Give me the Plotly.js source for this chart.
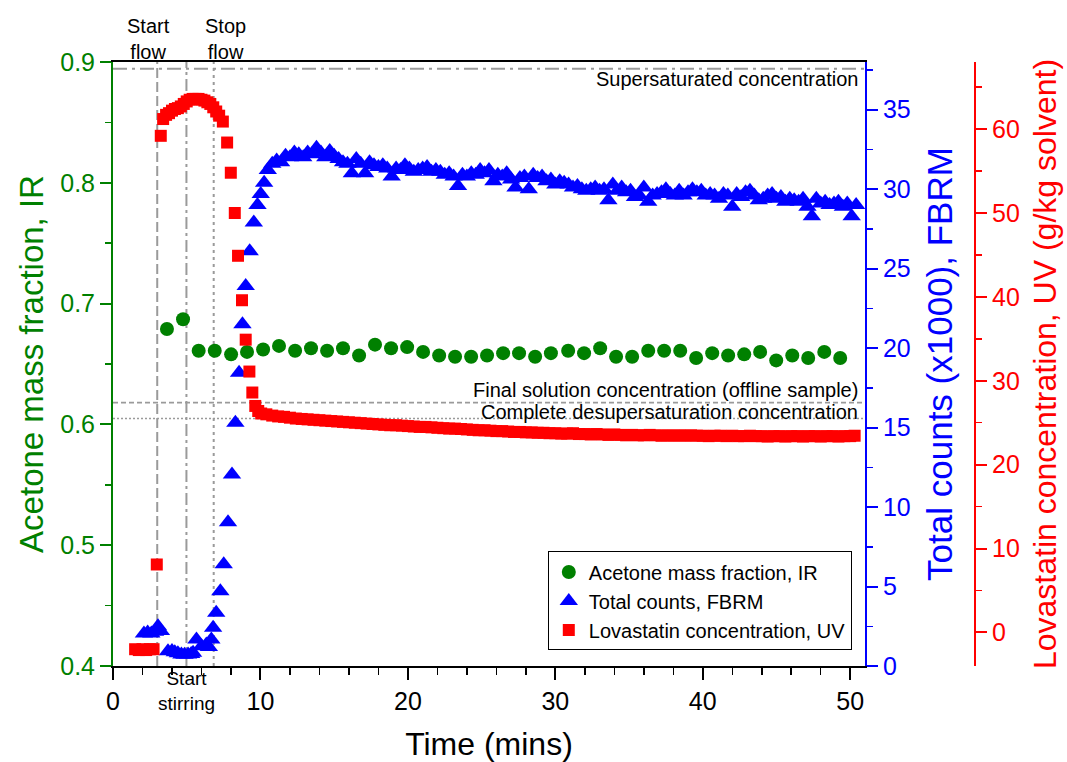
<!DOCTYPE html>
<html><head><meta charset="utf-8">
<script src="https://cdn.plot.ly/plotly-3.0.1.min.js"></script>
<style>html,body{margin:0;padding:0;background:#fff}</style>
</head><body><div id="chart" style="width:1067px;height:762px"></div>
<script>
// ---- Acetone mass fraction (IR) ----
const irTime = [3.66,4.75,5.81,6.90,8.01,9.09,10.18,11.26,12.35,13.43,14.52,15.60,16.69,17.77,18.86,19.95,21.03,22.12,23.20,24.29,25.37,26.46,27.54,28.63,29.70,30.87,31.95,33.04,34.12,35.21,36.30,37.38,38.47,39.55,40.64,41.72,42.81,43.89,44.98,46.07,47.15,48.24,49.32];
const irValue = [0.679,0.687,0.661,0.661,0.658,0.660,0.662,0.665,0.661,0.663,0.661,0.663,0.657,0.666,0.663,0.664,0.660,0.657,0.656,0.656,0.657,0.659,0.659,0.656,0.659,0.661,0.659,0.663,0.656,0.656,0.661,0.661,0.661,0.655,0.659,0.657,0.658,0.660,0.653,0.657,0.655,0.660,0.655];

// ---- Total counts (FBRM, x1000) ----
const fbrmTime = [2.1,2.35,2.6,2.85,3.05,3.25,3.73,4.0,4.19,4.4,4.64,4.85,5.09,5.3,5.43,5.66,6.0,6.33,6.5,6.67,6.79,7.0,7.28,7.51,7.8,8.07,8.3,8.55,8.78,9.0,9.27,9.55,9.8,10.02,10.25,
10.5,10.8,11.1,11.4,11.7,12.0,12.3,12.6,12.9,13.2,13.5,13.8,14.1,14.4,14.7,15.0,15.3,15.6,15.9,16.2,16.5,16.8,17.1,17.4,17.7,18.0,18.3,18.6,18.9,19.2,19.5,19.8,
20.1,20.4,20.7,21.0,21.3,21.6,21.9,22.2,22.5,22.8,23.1,23.4,23.7,24.0,24.3,24.6,24.9,25.2,25.5,25.8,26.1,26.4,26.7,27.0,27.3,27.6,27.9,28.2,28.5,28.8,29.1,29.4,29.7,
30.0,30.3,30.6,30.9,31.2,31.5,31.8,32.1,32.4,32.7,33.0,33.3,33.6,33.9,34.2,34.5,34.8,35.1,35.4,35.7,36.0,36.3,36.6,36.9,37.2,37.5,37.8,38.1,38.4,38.7,39.0,39.3,39.6,39.9,
40.2,40.5,40.8,41.1,41.4,41.7,42.0,42.3,42.6,42.9,43.2,43.5,43.8,44.1,44.4,44.7,45.0,45.3,45.6,45.9,46.2,46.5,46.8,47.1,47.4,47.7,48.0,48.3,48.6,48.9,49.2,49.5,49.8,50.1,50.4];
const fbrmCounts = [2.05,2.1,2.05,2.15,2.5,2.2,0.93,0.95,0.87,0.8,0.72,0.7,0.72,0.75,0.83,1.67,1.25,1.35,1.2,1.67,2.4,3.35,4.7,6.4,9.05,12.05,15.3,18.45,21.5,23.9,26.1,27.9,29.0,29.7,30.4,
31.2,31.6,31.8,31.7,32.1,32.0,32.3,32.2,32.0,32.3,32.2,32.6,32.3,32.0,32.4,32.1,31.9,31.7,31.6,31.0,31.9,31.6,31.0,31.7,31.5,31.4,31.5,31.3,30.8,31.3,31.2,31.5,
31.3,31.1,31.2,31.3,31.4,31.1,31.2,31.1,30.9,31.0,30.8,30.2,30.9,30.8,31.0,30.9,31.2,31.0,31.2,30.5,30.9,30.8,31.0,30.6,30.1,30.7,30.8,30.0,30.9,30.7,30.8,30.5,30.6,
30.3,30.5,30.4,30.3,30.1,30.2,30.0,29.9,30.0,30.1,29.9,30.0,29.3,30.3,29.9,30.1,29.8,29.9,29.5,29.6,30.1,29.2,29.6,29.7,29.8,30.0,29.7,29.6,29.9,29.6,29.8,30.0,29.8,29.9,
29.6,29.7,29.6,29.4,29.7,29.6,28.9,29.7,29.5,29.8,29.9,29.6,29.3,29.4,29.6,29.7,29.4,29.5,29.2,29.4,29.3,29.2,29.4,28.9,28.3,29.4,29.1,29.2,29.0,29.1,29.2,28.9,29.1,28.3,29.0];

// ---- Lovastatin concentration (UV, g/kg solvent) ----
const uvTime = [1.5,1.75,2.0,2.25,2.5,2.75,2.97,3.24,3.4,3.6,3.8,4.0,4.2,4.4,4.6,4.8,5.0,5.2,5.4,5.6,5.8,6.0,6.2,6.4,6.6,6.8,7.0,7.2,7.45,7.74,7.99,8.26,8.48,8.75,9.0,9.25,9.45,9.65,9.85,10.05,
10.4,10.8,11.2,11.6,12.0,12.4,12.8,13.2,13.6,14.0,14.4,14.8,15.2,15.6,16.0,16.4,16.8,17.2,17.6,18.0,18.4,18.8,19.2,19.6,20.0,20.4,20.8,21.2,21.6,22.0,22.4,22.8,23.2,23.6,24.0,24.4,24.8,25.2,25.6,26.0,26.4,26.8,27.2,27.6,28.0,28.4,28.8,29.2,29.6,
30.0,30.4,30.8,31.2,31.6,32.0,32.4,32.8,33.2,33.6,34.0,34.4,34.8,35.2,35.6,36.0,36.4,36.8,37.2,37.6,38.0,38.4,38.8,39.2,39.6,40.0,40.4,40.8,41.2,41.6,42.0,42.4,42.8,43.2,43.6,44.0,44.4,44.8,45.2,45.6,46.0,46.4,46.8,47.2,47.6,48.0,48.4,48.8,49.2,49.6,50.0,50.3];
const uvConc = [-2.0,-2.1,-2.0,-2.1,-2.0,-2.0,8.1,59.2,61.2,61.7,61.9,62.2,62.4,62.5,62.7,63.0,63.3,63.5,63.6,63.6,63.6,63.5,63.4,63.2,63.0,62.6,62.1,61.6,60.9,58.4,54.8,50.0,44.9,39.6,34.9,31.1,28.6,27.0,26.4,26.1,
26.0,25.85,25.75,25.7,25.6,25.5,25.45,25.4,25.35,25.3,25.25,25.2,25.15,25.1,25.05,25.0,24.95,24.9,24.85,24.8,24.75,24.7,24.7,24.65,24.6,24.55,24.5,24.5,24.45,24.4,24.35,24.3,24.3,24.25,24.2,24.15,24.1,24.1,24.05,24.0,24.0,23.95,23.9,23.9,23.85,23.85,23.8,23.8,23.75,
23.75,23.7,23.7,23.75,23.65,23.65,23.6,23.65,23.6,23.55,23.6,23.55,23.5,23.55,23.5,23.5,23.55,23.5,23.45,23.5,23.45,23.5,23.45,23.5,23.45,23.45,23.4,23.45,23.45,23.4,23.45,23.4,23.4,23.45,23.4,23.4,23.35,23.4,23.4,23.35,23.4,23.4,23.35,23.4,23.4,23.35,23.4,23.4,23.35,23.4,23.4,23.45];

// ---- Event markers (min) and reference concentrations (g/kg solvent) ----
const eventTimes = [3.0, 4.98, 6.83];
const refLevels = [67.2, 27.4, 25.5];
const refLabels = ['Supersaturated concentration', 'Final solution concentration (offline sample)', 'Complete desupersaturation concentration'];
const refLabelLevels = [66.0, 28.9, 26.3];

const FONT = 'Liberation Sans, Arial, Helvetica, sans-serif';
const GREEN = '#008000', BLUE = '#0000FF', RED = '#FF0000', GRAY = '#9a9a9a';

const traces = [
  {x: irTime, y: irValue, type: 'scatter', mode: 'markers', name: 'Acetone mass fraction, IR',
   marker: {symbol: 'circle', size: 14, color: GREEN}, yaxis: 'y', cliponaxis: false},
  {x: fbrmTime, y: fbrmCounts, type: 'scatter', mode: 'markers', name: 'Total counts, FBRM',
   marker: {symbol: 'triangle-up', size: 16, color: BLUE}, yaxis: 'y2', cliponaxis: false},
  {x: uvTime, y: uvConc, type: 'scatter', mode: 'markers', name: 'Lovastatin concentration, UV',
   marker: {symbol: 'square', size: 12, color: RED}, yaxis: 'y3', cliponaxis: false}
];

const vDashes = ['10px,4px', '12px,4px,3px,4px', '3px,4px'];
const hDashes = ['14px,5px,3px,5px', '5px,3px', '2px,2px'];
const shapes = [];
eventTimes.forEach((t, i) => shapes.push({type: 'line', layer: 'below', xref: 'x', yref: 'paper',
  x0: t, x1: t, y0: 0, y1: 1, line: {color: GRAY, width: 2, dash: vDashes[i]}}));
refLevels.forEach((v, i) => shapes.push({type: 'line', layer: 'below', xref: 'paper', yref: 'y3',
  x0: 0, x1: 0.8051, y0: v, y1: v, line: {color: GRAY, width: i === 0 ? 2 : 1.6, dash: hDashes[i]}}));

const annotations = [
  {text: 'Start<br>flow', x: 2.39, xref: 'x', y: 1.0389, yref: 'paper', yanchor: 'middle', showarrow: false, font: {family: FONT, size: 20, color: '#000'}},
  {text: 'Stop<br>flow', x: 7.65, xref: 'x', y: 1.0389, yref: 'paper', yanchor: 'middle', showarrow: false, font: {family: FONT, size: 20, color: '#000'}},
  {text: 'Start<br>stirring', x: 4.98, xref: 'x', y: -0.0414, yref: 'paper', yanchor: 'middle', showarrow: false, font: {family: FONT, size: 19, color: '#000'}}
];
refLabels.forEach((s, i) => annotations.push({text: s, x: 0.7998, xref: 'paper', xanchor: 'right',
  y: refLabelLevels[i], yref: 'y3', yanchor: 'middle', showarrow: false, font: {family: FONT, size: 20, color: '#000'}}));

const tickFont = (c) => ({family: FONT, size: 25, color: c});
const layout = {
  width: 1067, height: 762,
  margin: {l: 113, r: 20, t: 62, b: 96, pad: 0},
  paper_bgcolor: '#fff', plot_bgcolor: '#fff',
  font: {family: FONT, color: '#000'},
  showlegend: true,
  legend: {x: 0.791, xanchor: 'right', y: 0.0257, yanchor: 'bottom', bgcolor: '#fff',
    bordercolor: '#000', borderwidth: 1, font: {family: FONT, size: 20, color: '#000'}},
  xaxis: {domain: [0, 0.8051], range: [0, 51], dtick: 10, tick0: 0, showgrid: false, zeroline: false,
    showline: true, linecolor: '#000', linewidth: 2, mirror: true,
    ticks: 'outside', ticklen: 12, tickwidth: 2, tickcolor: '#000', tickfont: tickFont('#000'),
    minor: {dtick: 2, ticks: 'outside', ticklen: 7, tickwidth: 1.5, tickcolor: '#000', showgrid: false},
    title: {text: 'Time (mins)', font: {family: FONT, size: 32, color: '#000'}, standoff: 28}},
  yaxis: {range: [0.4, 0.9], dtick: 0.1, tick0: 0.4, tickformat: '.1f', showgrid: false, zeroline: false,
    showline: true, linecolor: GREEN, linewidth: 2,
    ticks: 'outside', ticklen: 11, tickwidth: 2, tickcolor: GREEN, tickfont: tickFont(GREEN),
    minor: {dtick: 0.05, ticks: 'outside', ticklen: 6, tickwidth: 1.5, tickcolor: GREEN, showgrid: false},
    title: {text: 'Acetone mass fraction, IR', font: {family: FONT, size: 33, color: GREEN}, standoff: 7}},
  yaxis2: {overlaying: 'y', side: 'right', anchor: 'x', range: [0, 38], dtick: 5, tick0: 0, showgrid: false, zeroline: false,
    showline: true, linecolor: BLUE, linewidth: 2,
    ticks: 'outside', ticklen: 11, tickwidth: 2, tickcolor: BLUE, tickfont: tickFont(BLUE),
    minor: {dtick: 2.5, ticks: 'outside', ticklen: 6, tickwidth: 1.5, tickcolor: BLUE, showgrid: false},
    title: {text: 'Total counts (x1000), FBRM', font: {family: FONT, size: 35, color: BLUE}, standoff: 18}},
  yaxis3: {overlaying: 'y', side: 'right', anchor: 'free', position: 0.9229, range: [-4, 68], dtick: 10, tick0: 0,
    showgrid: false, zeroline: false, showline: true, linecolor: RED, linewidth: 2,
    ticks: 'outside', ticklen: 11, tickwidth: 2, tickcolor: RED, tickfont: tickFont(RED),
    minor: {dtick: 5, ticks: 'outside', ticklen: 6, tickwidth: 1.5, tickcolor: RED, showgrid: false},
    title: {text: 'Lovastatin concentration, UV (g/kg solvent)', font: {family: FONT, size: 32, color: RED}, standoff: 14}},
  shapes: shapes,
  annotations: annotations
};

Plotly.newPlot('chart', traces, layout, {displayModeBar: false, staticPlot: true});
</script></body></html>
